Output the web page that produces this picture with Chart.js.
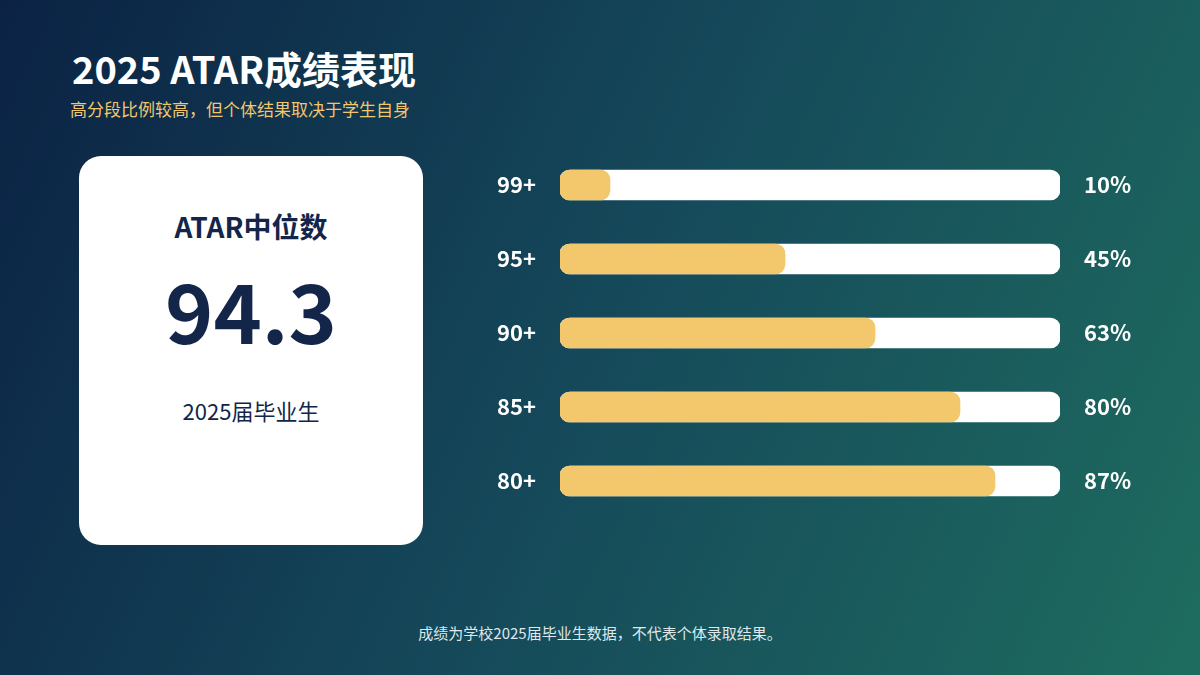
<!DOCTYPE html>
<html><head><meta charset="utf-8">
<script src="https://cdn.jsdelivr.net/npm/chart.js@4"></script>
<style>
body{margin:0;width:1200px;height:675px;overflow:hidden;font-family:"Noto Sans CJK SC","Noto Sans",sans-serif;
background:linear-gradient(115deg,#0b2244 0%,#15495a 50%,#1e6c5f 100%);position:relative;}
.t{position:absolute;left:72px;top:40px;color:#fff;font-size:38px;font-weight:700;}
.s{position:absolute;left:70px;top:96px;color:#f2c76b;font-size:17px;}
.card{position:absolute;left:79px;top:156px;width:344px;height:389px;background:#fff;border-radius:22px;text-align:center;color:#13264a;}
.card .a{position:absolute;top:50px;width:100%;font-size:28px;font-weight:700;}
.card .b{position:absolute;top:112px;width:100%;font-size:82px;font-weight:700;line-height:1;}
.card .c{position:absolute;top:238px;width:100%;font-size:22px;}
.f{position:absolute;top:622px;width:100%;text-align:center;color:#dfe8ea;font-size:15px;}
#wrap{position:absolute;left:470px;top:148px;width:690px;height:370px;}
</style></head><body>
<div class="t">2025 ATAR成绩表现</div>
<div class="s">高分段比例较高，但个体结果取决于学生自身</div>
<div class="card"><div class="a">ATAR中位数</div><div class="b">94.3</div><div class="c">2025届毕业生</div></div>
<div id="wrap"><canvas id="c"></canvas></div>
<div class="f">成绩为学校2025届毕业生数据，不代表个体录取结果。</div>
<script>
const bands = ['99+', '95+', '90+', '85+', '80+'];
const shares = [10, 45, 63, 80, 87];
const track = [100, 100, 100, 100, 100];

const labelPlugin = {
  id: 'labels',
  afterDatasetsDraw(chart) {
    const {ctx, scales: {y}, chartArea} = chart;
    ctx.save();
    ctx.fillStyle = '#fff';
    ctx.font = '700 22px "Noto Sans CJK SC", sans-serif';
    ctx.textBaseline = 'middle';
    bands.forEach((b, i) => {
      const yy = y.getPixelForValue(i);
      ctx.textAlign = 'right';
      ctx.fillText(b, chartArea.left - 24, yy);
      ctx.textAlign = 'left';
      ctx.fillText(shares[i] + '%', chartArea.right + 24, yy);
    });
    ctx.restore();
  }
};

new Chart(document.getElementById('c'), {
  type: 'bar',
  data: {
    labels: bands,
    datasets: [
      {data: shares, backgroundColor: '#f3c76c', order: 1, grouped: false, barThickness: 30, borderRadius: 10, borderSkipped: false},
      {data: track, backgroundColor: '#ffffff', order: 2, grouped: false, barThickness: 30, borderRadius: 10, borderSkipped: false}
    ]
  },
  options: {
    indexAxis: 'y',
    responsive: true,
    maintainAspectRatio: false,
    animation: false,
    layout: {padding: {left: 90, right: 100, top: 0, bottom: 0}},
    plugins: {legend: {display: false}, tooltip: {enabled: false}},
    scales: {
      x: {display: false, min: 0, max: 100},
      y: {display: false}
    }
  },
  plugins: [labelPlugin]
});
</script>
</body></html>
